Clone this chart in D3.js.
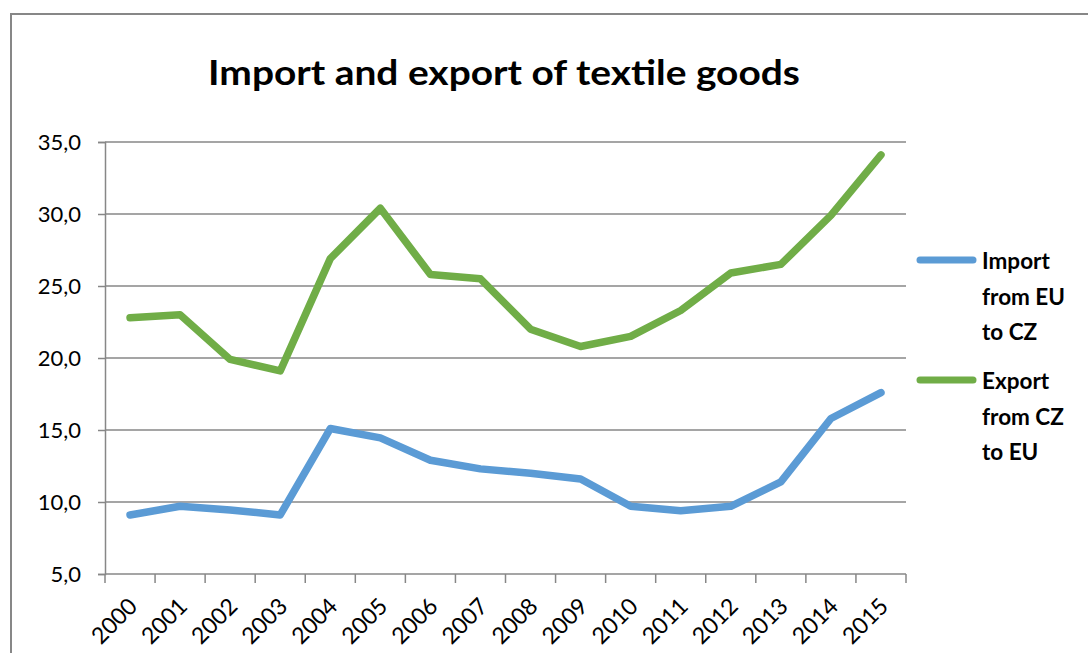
<!DOCTYPE html>
<html>
<head>
<meta charset="utf-8">
<script src="https://cdn.jsdelivr.net/npm/d3@7"></script>
<style>
  html, body { margin: 0; padding: 0; background: #fff; }
  svg { display: block; }
</style>
</head>
<body>
<svg id="chart" width="1088" height="653"></svg>
<script>
// Years on the category axis
const years = ["2000","2001","2002","2003","2004","2005","2006","2007",
               "2008","2009","2010","2011","2012","2013","2014","2015"];
// Import from EU to CZ
const importValues = [9.1, 9.7, 9.45, 9.1, 15.1, 14.45, 12.9, 12.3,
                      12.0, 11.6, 9.7, 9.4, 9.7, 11.4, 15.8, 17.6];
// Export from CZ to EU
const exportValues = [22.8, 23.0, 19.9, 19.1, 26.9, 30.4, 25.8, 25.5,
                      22.0, 20.8, 21.5, 23.3, 25.9, 26.5, 29.9, 34.1];
const yTicks = [5, 10, 15, 20, 25, 30, 35];
const seriesNames = [["Import", "from EU", "to CZ"], ["Export", "from CZ", "to EU"]];
const seriesColors = ["#5B9BD5", "#70AD47"];

const svg = d3.select("#chart");
const plot = { left: 105, right: 906, top: 142, bottom: 574 };
const grey = "#878787";
const font = "Lato, 'Open Sans', sans-serif";

// chart frame
svg.append("path")
  .attr("d", `M11,653 V14 H1090`)
  .attr("fill", "none").attr("stroke", grey).attr("stroke-width", 2);

const x = d3.scaleBand().domain(years).range([plot.left, plot.right]);
const y = d3.scaleLinear().domain([5, 35]).range([plot.bottom, plot.top]);

// horizontal gridlines
svg.append("g").selectAll("line")
  .data(yTicks.slice(1))
  .join("line")
  .attr("x1", plot.left).attr("x2", plot.right)
  .attr("y1", d => y(d)).attr("y2", d => y(d))
  .attr("stroke", grey).attr("stroke-width", 1.5);

// value axis
const fmt = d => d.toFixed(1).replace(".", ",");
const yAxis = svg.append("g")
  .attr("transform", `translate(${plot.left},0)`)
  .call(d3.axisLeft(y).tickValues(yTicks).tickFormat(fmt).tickSize(7).tickPadding(17));
yAxis.select(".domain").attr("stroke", grey).attr("stroke-width", 1.5);
yAxis.selectAll(".tick line").attr("stroke", grey).attr("stroke-width", 1.5);
yAxis.selectAll(".tick text")
  .attr("fill", "#000")
  .style("font-family", font)
  .style("font-size", "22px");

// category axis with ticks between categories
const xAxisG = svg.append("g");
xAxisG.append("line")
  .attr("x1", plot.left).attr("x2", plot.right)
  .attr("y1", plot.bottom).attr("y2", plot.bottom)
  .attr("stroke", grey).attr("stroke-width", 1.5);
const bounds = years.map(d => x(d)).concat([x(years[years.length - 1]) + x.bandwidth()]);
xAxisG.selectAll("line.tk")
  .data(bounds)
  .join("line").attr("class", "tk")
  .attr("x1", d => d).attr("x2", d => d)
  .attr("y1", plot.bottom).attr("y2", plot.bottom + 9)
  .attr("stroke", grey).attr("stroke-width", 1.5);
xAxisG.selectAll("text")
  .data(years)
  .join("text")
  .attr("transform", d => `translate(${x(d) + x.bandwidth() / 2 + 3},${plot.bottom + 28}) rotate(-45)`)
  .attr("text-anchor", "end")
  .attr("dy", "0.35em")
  .style("font-family", font)
  .style("font-size", "23px")
  .attr("fill", "#000")
  .text(d => d);

// series lines
const line = d3.line()
  .x((d, i) => x(years[i]) + x.bandwidth() / 2)
  .y(d => y(d));
[importValues, exportValues].forEach((vals, k) => {
  svg.append("path")
    .datum(vals)
    .attr("d", line)
    .attr("fill", "none")
    .attr("stroke", seriesColors[k])
    .attr("stroke-width", 7.5)
    .attr("stroke-linejoin", "round")
    .attr("stroke-linecap", "round");
});

// title, squeezed horizontally to a condensed width
const titleX = 504, titleW = 592;
const title = svg.append("text")
  .attr("text-anchor", "middle")
  .style("font-family", font)
  .style("font-weight", "bold")
  .style("font-size", "35px")
  .attr("fill", "#000")
  .text("Import and export of textile goods");
const tw = title.node().getComputedTextLength();
title.attr("transform", `translate(${titleX},85) scale(${titleW / tw},1)`);

// legend
const legendTop = [260, 380];
seriesNames.forEach((lines, k) => {
  const g = svg.append("g");
  g.append("line")
    .attr("x1", 920).attr("x2", 973)
    .attr("y1", legendTop[k]).attr("y2", legendTop[k])
    .attr("stroke", seriesColors[k]).attr("stroke-width", 7)
    .attr("stroke-linecap", "round");
  g.selectAll("text")
    .data(lines)
    .join("text")
    .attr("x", 982)
    .attr("y", (d, i) => legendTop[k] + 9 + i * 35.5)
    .style("font-family", font)
    .style("font-weight", "bold")
    .style("font-size", "22.5px")
    .attr("fill", "#000")
    .text(d => d);
});
</script>
</body>
</html>
